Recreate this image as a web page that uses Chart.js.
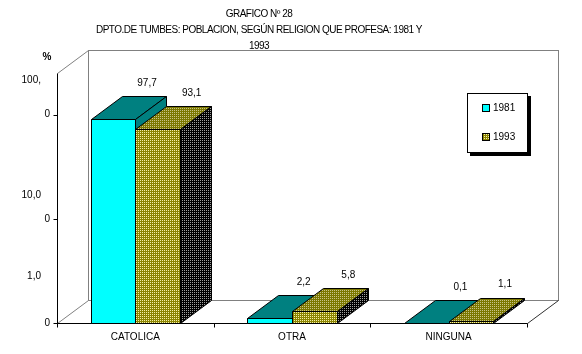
<!DOCTYPE html>
<html>
<head>
<meta charset="utf-8">
<script src="https://cdn.jsdelivr.net/npm/chart.js@4/dist/chart.umd.min.js"></script>
<style>
html, body { margin: 0; padding: 0; background: #fff; }
#wrap { width: 582px; height: 354px; }
</style>
</head>
<body>
<div id="wrap"><canvas id="religionChart" width="582" height="354"></canvas></div>
<script>
// Chart data
const titleLines = ['GRAFICO Nº 28', 'DPTO.DE TUMBES: POBLACION, SEGÚN RELIGION QUE PROFESA: 1981 Y', '1993'];
const categories = ['CATOLICA', 'OTRA', 'NINGUNA'];
const seriesNames = ['1981', '1993'];
const values1981 = [97.7, 2.2, 0.1];
const values1993 = [93.1, 5.8, 1.1];
const yTickValues = [0, 50, 100];
const yTickLabels = ['0', '0', '0'];
const yTickUpperLabels = ['1,0', '10,0', '100,'];
const yAxisMax = 120;

// Look
const FONT = '10px "Liberation Sans", Arial, sans-serif';
const DEPTH_X = 31;
const DEPTH_Y = -23;
const upperLabelOffsets = [47, 24, 34];
const GRAY = '#808080';

const canvas = document.getElementById('religionChart');
const ctx = canvas.getContext('2d');

function makePattern(base, dot) {
    const c = document.createElement('canvas');
    c.width = 2;
    c.height = 2;
    const g = c.getContext('2d');
    g.fillStyle = base;
    g.fillRect(0, 0, 2, 2);
    g.fillStyle = dot;
    g.fillRect(0, 0, 1, 1);
    return ctx.createPattern(c, 'repeat');
}

const styles = [
    { front: '#00FFFF', top: '#008080', side: '#008080' },
    { front: makePattern('#8C8400', '#F4F0A8'), top: makePattern('#7C7800', '#C8C488'), side: makePattern('#000000', '#A0A0A0') }
];

function fmt(v) {
    return v.toFixed(1).replace('.', ',');
}

function line(x1, y1, x2, y2, color) {
    ctx.strokeStyle = color;
    ctx.lineWidth = 1;
    ctx.beginPath();
    ctx.moveTo(x1, y1);
    ctx.lineTo(x2, y2);
    ctx.stroke();
}

function poly(points, fill) {
    ctx.beginPath();
    ctx.moveTo(points[0][0], points[0][1]);
    for (let i = 1; i < points.length; i++) ctx.lineTo(points[i][0], points[i][1]);
    ctx.closePath();
    ctx.fillStyle = fill;
    ctx.fill();
    ctx.strokeStyle = '#000';
    ctx.lineWidth = 1;
    ctx.stroke();
}

// Walls, floor and axes
const framePlugin = {
    id: 'frame',
    beforeDatasetsDraw(chart) {
        const a = chart.chartArea;
        const L = a.left + 0.5, R = a.right + 0.5, T = a.top + 0.5, B = a.bottom + 0.5;
        ctx.save();
        // back wall
        ctx.strokeStyle = GRAY;
        ctx.strokeRect(L + DEPTH_X, T + DEPTH_Y, R - L, B - T);
        // side wall and floor edges
        line(L, T, L + DEPTH_X, T + DEPTH_Y, GRAY);
        line(L, B, L + DEPTH_X, B + DEPTH_Y, GRAY);
        line(R, B, R + DEPTH_X, B + DEPTH_Y, '#303030');
        // front axes
        line(L, T, L, B, '#000');
        line(L - 1, B, R, B, '#000');
        // y ticks
        const y = chart.scales.y;
        yTickValues.forEach(v => {
            const py = Math.round(y.getPixelForValue(v)) + 0.5;
            line(L - 4, py, L, py, '#000');
        });
        // x ticks at category borders
        const x = chart.scales.x;
        const step = x.getPixelForValue(1) - x.getPixelForValue(0);
        for (let i = 0; i <= categories.length; i++) {
            const px = Math.round(x.getPixelForValue(0) - step / 2 + i * step) + 0.5;
            line(px, B, px, B + 4, '#000');
        }
        ctx.restore();
    },
    beforeDatasetDraw() {
        return false;
    },
    afterDatasetsDraw(chart) {
        ctx.save();
        chart.data.datasets.forEach((ds, di) => {
            const meta = chart.getDatasetMeta(di);
            const st = styles[di];
            meta.data.forEach(el => {
                const p = el.getProps(['x', 'y', 'base', 'width'], true);
                const l = Math.round(p.x - p.width / 2) + 0.5;
                const r = Math.round(p.x + p.width / 2) + 0.5;
                const t = Math.round(p.y) + 0.5;
                const b = Math.round(p.base) + 0.5;
                poly([[l, t], [r, t], [r, b], [l, b]], st.front);
                poly([[l, t], [r, t], [r + DEPTH_X, t + DEPTH_Y], [l + DEPTH_X, t + DEPTH_Y]], st.top);
                poly([[r, t], [r + DEPTH_X, t + DEPTH_Y], [r + DEPTH_X, b + DEPTH_Y], [r, b]], st.side);
            });
        });
        // value labels
        ctx.font = FONT;
        ctx.fillStyle = '#000';
        ctx.textAlign = 'center';
        ctx.textBaseline = 'middle';
        chart.data.datasets.forEach((ds, di) => {
            const meta = chart.getDatasetMeta(di);
            meta.data.forEach((el, i) => {
                const p = el.getProps(['x', 'y'], true);
                ctx.fillText(fmt(ds.data[i]), p.x + DEPTH_X + 3, p.y + DEPTH_Y - 13);
            });
        });
        ctx.restore();
    },
    afterDraw(chart) {
        const a = chart.chartArea;
        ctx.save();
        ctx.font = FONT;
        ctx.fillStyle = '#000';
        ctx.textBaseline = 'middle';

        // title
        ctx.textAlign = 'center';
        ctx.letterSpacing = '-0.5px';
        titleLines.forEach((t, i) => ctx.fillText(t, 259, 14 + i * 16));
        ctx.letterSpacing = '0px';

        // y labels
        const y = chart.scales.y;
        yTickValues.forEach((v, i) => {
            const py = y.getPixelForValue(v);
            ctx.textAlign = 'right';
            ctx.fillText(yTickLabels[i], a.left - 7, py);
            ctx.fillText(yTickUpperLabels[i], a.left - 16, py - upperLabelOffsets[i]);
        });
        ctx.textAlign = 'center';
        ctx.font = 'bold ' + FONT;
        ctx.fillText('%', a.left - 10, a.top - 16);
        ctx.font = FONT;

        // category labels
        const x = chart.scales.x;
        categories.forEach((c, i) => ctx.fillText(c, x.getPixelForValue(i), a.bottom + 14));

        // legend
        const bx = a.right - 60, by = a.top + 20, bw = 61, bh = 60;
        ctx.fillStyle = '#000';
        ctx.fillRect(bx + 3, by + 3, bw, bh);
        ctx.fillStyle = '#fff';
        ctx.fillRect(bx, by, bw, bh);
        ctx.strokeStyle = '#000';
        ctx.lineWidth = 1;
        ctx.strokeRect(bx + 0.5, by + 0.5, bw - 1, bh - 1);
        seriesNames.forEach((n, i) => {
            const iy = by + 11 + i * 29;
            ctx.fillStyle = styles[i].front;
            ctx.fillRect(bx + 15, iy, 8, 8);
            ctx.strokeRect(bx + 15.5, iy + 0.5, 7, 7);
            ctx.fillStyle = '#000';
            ctx.textAlign = 'left';
            ctx.fillText(n, bx + 26, iy + 4);
        });
        ctx.restore();
    }
};

const religionChart = new Chart(ctx, {
    type: 'bar',
    data: {
        labels: categories,
        datasets: [
            { label: seriesNames[0], data: values1981, backgroundColor: styles[0].front },
            { label: seriesNames[1], data: values1993, backgroundColor: styles[1].front }
        ]
    },
    options: {
        responsive: false,
        animation: false,
        devicePixelRatio: 1,
        layout: {
            padding: { left: 57, right: 55, top: 73, bottom: 31 }
        },
        datasets: {
            bar: {
                categoryPercentage: 0.57,
                barPercentage: 1.0
            }
        },
        plugins: {
            legend: { display: false },
            tooltip: { enabled: false },
            title: { display: false }
        },
        scales: {
            x: { display: false },
            y: { display: false, min: 0, max: yAxisMax }
        }
    },
    plugins: [framePlugin]
});
</script>
</body>
</html>
